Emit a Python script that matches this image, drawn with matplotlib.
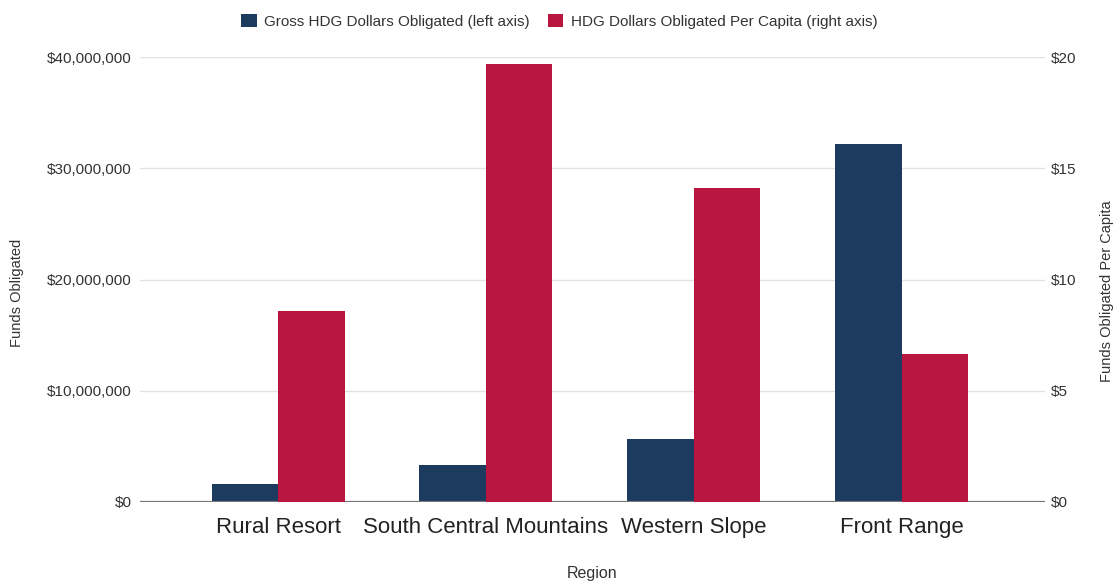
import numpy as np
import matplotlib
matplotlib.use("Agg")
import matplotlib.pyplot as plt
from matplotlib.ticker import FuncFormatter
from matplotlib.patches import Patch

plt.rcParams['font.family'] = ['Liberation Sans', 'DejaVu Sans']

# data
regions = ["Rural Resort", "South Central Mountains", "Western Slope", "Front Range"]
gross_dollars = [1.6e6, 3.3e6, 5.7e6, 32.2e6]
per_capita = [8.6, 19.7, 14.1, 6.65]

navy = "#1d3a5f"
crimson = "#b8163f"
grid_col = "#e2e2e2"
text_col = "#333333"

fig = plt.figure(figsize=(11.19, 5.83), dpi=100)
ax = fig.add_axes([0.125, 0.139, 0.809, 0.763])
ax2 = ax.twinx()

x = np.arange(len(regions))
w = 0.32

ax.bar(x - w / 2, gross_dollars, width=w, color=navy, zorder=3)
ax2.bar(x + w / 2, per_capita, width=w, color=crimson, zorder=3)

ax.set_xlim(-0.665, 3.69)
ax.set_ylim(0, 40e6)
ax2.set_ylim(0, 20)
ax.set_yticks(np.arange(0, 40e6 + 1, 10e6))
ax2.set_yticks(np.arange(0, 21, 5))

ax.yaxis.set_major_formatter(FuncFormatter(lambda v, p: f"${v:,.0f}"))
ax2.yaxis.set_major_formatter(FuncFormatter(lambda v, p: f"${v:.0f}"))

# gridlines + baseline
for v in [10e6, 20e6, 30e6, 40e6]:
    ax.axhline(v, color=grid_col, lw=1.0, zorder=1)
ax.axhline(0, color="#777777", lw=1.6, zorder=4)

for a in (ax, ax2):
    for s in a.spines.values():
        s.set_visible(False)
    a.tick_params(axis='both', length=0)

ax.tick_params(axis='y', labelsize=11, labelcolor=text_col, pad=6)
ax2.tick_params(axis='y', labelsize=11, labelcolor=text_col, pad=4)

ax.set_xticks(x)
ax.set_xticklabels(regions, fontsize=16, color="#222222")
ax.tick_params(axis='x', pad=11)

# axis titles placed at fixed spots so they stay inside the figure
fig.text(0.5295, 0.016, "Region", fontsize=11.5, color=text_col,
         ha="center", va="center")
fig.text(0.0148, 0.498, "Funds Obligated", rotation=90, fontsize=10.5,
         color=text_col, ha="center", va="center")
fig.text(0.989, 0.500, "Funds Obligated Per Capita", rotation=90, fontsize=10.5,
         color=text_col, ha="center", va="center")

handles = [Patch(facecolor=navy, label="Gross HDG Dollars Obligated (left axis)"),
           Patch(facecolor=crimson, label="HDG Dollars Obligated Per Capita (right axis)")]
fig.legend(handles=handles, loc="upper center", bbox_to_anchor=(0.5, 1.0), ncol=2,
           frameon=False, fontsize=11, handlelength=1.0, handleheight=1.0,
           columnspacing=1.2, handletextpad=0.5, labelcolor=text_col)

plt.savefig("out.png", dpi=100)
